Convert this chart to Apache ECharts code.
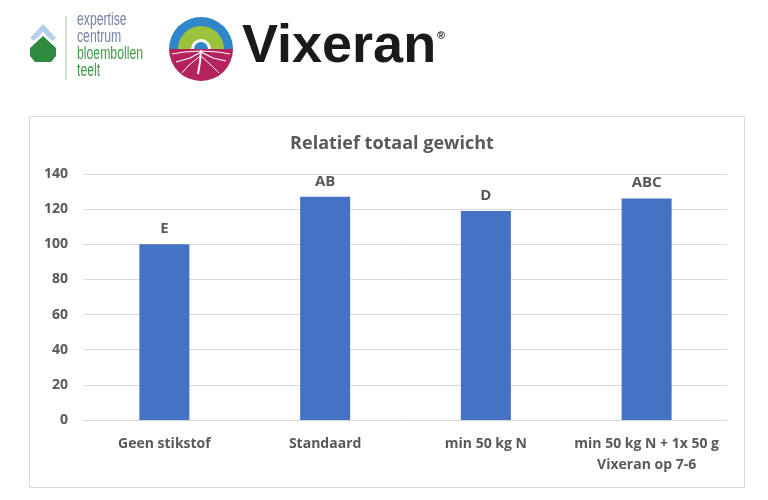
<!DOCTYPE html>
<html>
<head>
<meta charset="utf-8">
<script src="https://cdn.jsdelivr.net/npm/echarts@6/dist/echarts.min.js"></script>
<style>
  html, body { margin: 0; padding: 0; background: #ffffff; }
  #chart { width: 768px; height: 500px; }
</style>
</head>
<body>
<div id="chart"></div>
<script>
// data
var categories = ['Geen stikstof', 'Standaard', 'min 50 kg N', 'min 50 kg N + 1x 50 g\nVixeran op 7-6'];
var values = [100, 127, 119, 126];
var letters = ['E', 'AB', 'D', 'ABC'];
var yTicks = { min: 0, max: 140, interval: 20 };

var font = 'Open Sans';
var grey = '#595959';

var myChart = echarts.init(document.getElementById('chart'));

// logo bits (plain drawing, no data)
var logo = [
  // chart frame
  { type: 'rect', shape: { x: 29.5, y: 116.5, width: 715, height: 371 },
    style: { fill: 'none', stroke: '#d9d9d9', lineWidth: 1 }, z: -1 },
  // ECBT logo
  { type: 'polygon', shape: { points: [[30, 38], [43, 24], [56, 38], [52, 41], [43, 32], [34, 41]] },
    style: { fill: '#b4cfee' } },
  { type: 'polygon', shape: { points: [[30, 48], [43, 36], [56, 48], [56, 56], [51, 62], [35, 62], [30, 56]] },
    style: { fill: '#2e8b3e' } },
  { type: 'line', shape: { x1: 66, y1: 16, x2: 66, y2: 80 }, style: { stroke: '#a8c8a8', lineWidth: 1 } },
  { type: 'text', x: 77, y: 12, scaleX: 0.68, style: { text: 'expertise\ncentrum', fill: '#7283a3', font: '18px "Liberation Sans"', lineHeight: 17 } },
  { type: 'text', x: 77, y: 46, scaleX: 0.68, style: { text: 'bloembollen\nteelt', fill: '#3f9a45', font: '18px "Liberation Sans"', lineHeight: 17 } },
  // Vixeran circle
  { type: 'sector', shape: { cx: 201, cy: 49, r: 32, r0: 0, startAngle: Math.PI, endAngle: Math.PI * 2 }, style: { fill: '#2f86c8' } },
  { type: 'sector', shape: { cx: 201, cy: 49, r: 23, r0: 0, startAngle: Math.PI, endAngle: Math.PI * 2 }, style: { fill: '#9cc23c' } },
  { type: 'sector', shape: { cx: 201, cy: 49, r: 10, r0: 0, startAngle: Math.PI, endAngle: Math.PI * 2 }, style: { fill: '#ffffff' } },
  { type: 'sector', shape: { cx: 201, cy: 49, r: 7, r0: 0, startAngle: Math.PI, endAngle: Math.PI * 2 }, style: { fill: '#2f86c8' } },
  { type: 'sector', shape: { cx: 201, cy: 49, r: 32, r0: 0, startAngle: 0, endAngle: Math.PI }, style: { fill: '#b3245c' } },
  { type: 'polyline', shape: { points: [[201, 50], [200, 62], [198, 74]] }, style: { stroke: '#fff', lineWidth: 2, fill: 'none' } },
  { type: 'polyline', shape: { points: [[201, 52], [190, 58], [176, 62]] }, style: { stroke: '#fff', lineWidth: 1.2, fill: 'none' } },
  { type: 'polyline', shape: { points: [[201, 52], [213, 58], [226, 61]] }, style: { stroke: '#fff', lineWidth: 1.2, fill: 'none' } },
  { type: 'polyline', shape: { points: [[200, 56], [188, 66], [182, 73]] }, style: { stroke: '#fff', lineWidth: 1, fill: 'none' } },
  { type: 'polyline', shape: { points: [[201, 56], [212, 66], [219, 73]] }, style: { stroke: '#fff', lineWidth: 1, fill: 'none' } },
  { type: 'polyline', shape: { points: [[201, 51], [184, 52], [172, 54]] }, style: { stroke: '#fff', lineWidth: 1, fill: 'none' } },
  { type: 'polyline', shape: { points: [[201, 51], [218, 52], [230, 54]] }, style: { stroke: '#fff', lineWidth: 1, fill: 'none' } },
  { type: 'text', x: 242, y: 20, style: { text: 'Vixeran', fill: '#1a1a1a', font: 'bold 54px "Liberation Sans"' } },
  { type: 'text', x: 437, y: 30, style: { text: '®', fill: '#1a1a1a', font: 'bold 11px "Liberation Sans"' } }
];

var option = {
  backgroundColor: '#ffffff',
  animation: false,
  title: {
    text: 'Relatief totaal gewicht',
    left: 387,
    textAlign: 'center',
    top: 130,
    textStyle: { fontFamily: font, fontSize: 18, fontWeight: 'bold', color: grey }
  },
  grid: { left: 84, right: 41, top: 174, bottom: 80 },
  xAxis: {
    type: 'category',
    data: categories,
    axisLine: { lineStyle: { color: '#d9d9d9' } },
    axisTick: { show: false },
    axisLabel: {
      interval: 0,
      margin: 14,
      color: grey,
      fontFamily: font,
      fontSize: 14,
      fontWeight: 'bold',
      lineHeight: 21
    }
  },
  yAxis: {
    type: 'value',
    min: yTicks.min,
    max: yTicks.max,
    interval: yTicks.interval,
    axisLine: { show: false },
    axisTick: { show: false },
    splitLine: { lineStyle: { color: '#d9d9d9' } },
    axisLabel: {
      margin: 16,
      color: grey,
      fontFamily: font,
      fontSize: 14,
      fontWeight: 'bold'
    }
  },
  series: [{
    type: 'bar',
    data: values,
    barWidth: 50,
    itemStyle: { color: '#4472c4' },
    label: {
      show: true,
      position: 'top',
      distance: 8,
      color: grey,
      fontFamily: font,
      fontSize: 15,
      fontWeight: 'bold',
      formatter: function (p) { return letters[p.dataIndex]; }
    }
  }],
  graphic: logo
};

myChart.setOption(option);
</script>
</body>
</html>
